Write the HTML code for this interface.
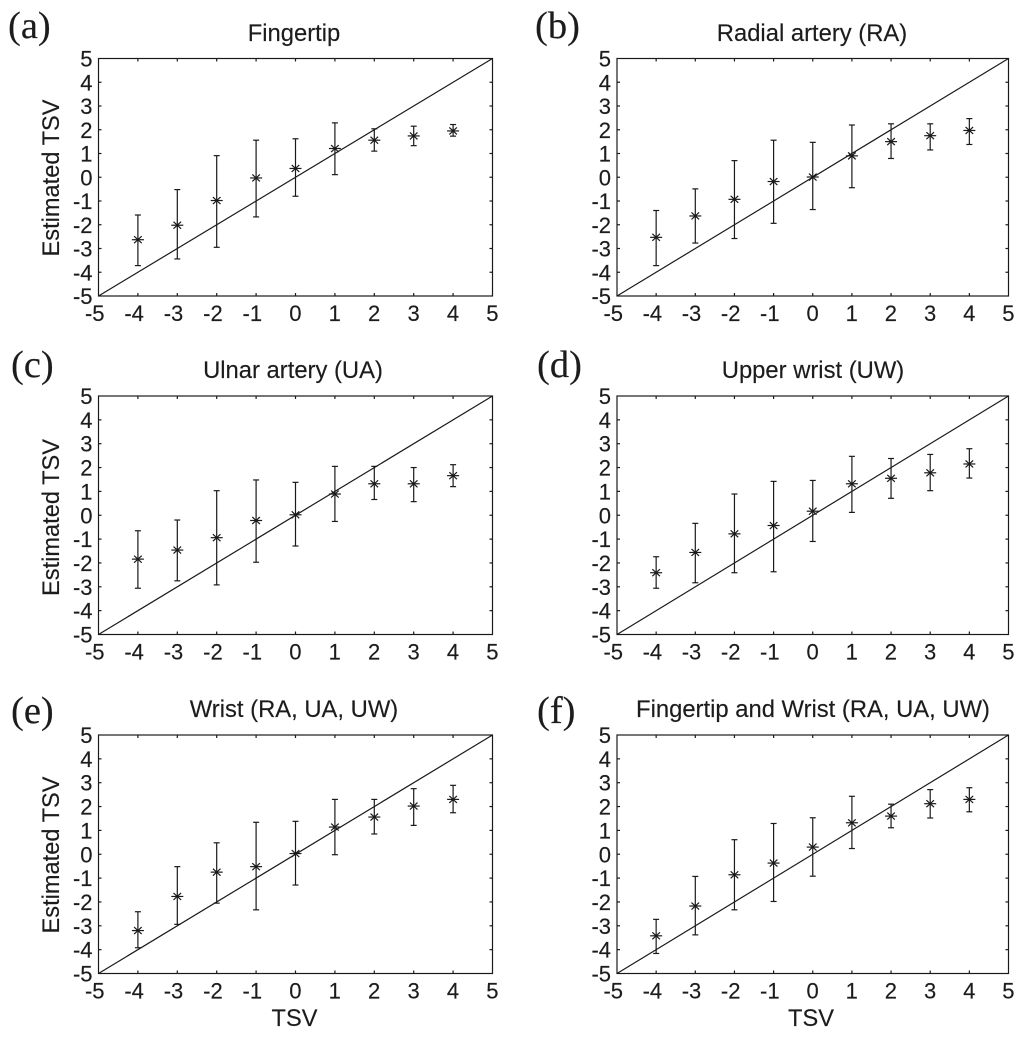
<!DOCTYPE html>
<html lang="en">
<head>
<meta charset="utf-8">
<title>Estimated TSV versus TSV</title>
<style>
html,body{margin:0;padding:0;background:#fff;}
svg{display:block;}
text{font-family:"Liberation Sans",sans-serif;fill:#1c1c1c;stroke:#1c1c1c;stroke-width:0.15px;}
.panel-letter{font-family:"Liberation Serif",serif;font-size:38.5px;}
.title{font-size:23.8px;text-anchor:middle;}
.axis-title{font-size:23.6px;text-anchor:middle;}
.tick-label{font-size:22px;}
.stroke{stroke:#1a1a1a;stroke-width:1.2;fill:none;}
</style>
</head>
<body>
<svg id="figure" xmlns="http://www.w3.org/2000/svg" width="1024" height="1038" viewBox="0 0 1024 1038">
  <g>
    <text class="panel-letter" x="8" y="38">(a)</text>
    <text class="panel-letter" x="535" y="38">(b)</text>
    <text class="panel-letter" x="11" y="377">(c)</text>
    <text class="panel-letter" x="537" y="377">(d)</text>
    <text class="panel-letter" x="11" y="723">(e)</text>
    <text class="panel-letter" x="537" y="723">(f)</text>
  </g>
  <g>
    <text class="title" x="294" y="41">Fingertip</text>
    <text class="title" x="812" y="41">Radial artery (RA)</text>
    <text class="title" x="293" y="378">Ulnar artery (UA)</text>
    <text class="title" x="813" y="378">Upper wrist (UW)</text>
    <text class="title" x="294" y="717">Wrist (RA, UA, UW)</text>
    <text class="title" x="813" y="717">Fingertip and Wrist (RA, UA, UW)</text>
  </g>
  <g>
    <text class="axis-title" transform="translate(59,178) rotate(-90)">Estimated TSV</text>
    <text class="axis-title" transform="translate(59,517.5) rotate(-90)">Estimated TSV</text>
    <text class="axis-title" transform="translate(59,855) rotate(-90)">Estimated TSV</text>
    <text class="axis-title" x="294.5" y="1026">TSV</text>
    <text class="axis-title" x="811" y="1026">TSV</text>
  </g>
</svg>
<script>
const categories = [-4, -3, -2, -1, 0, 1, 2, 3, 4];
const tickValues = [-5, -4, -3, -2, -1, 0, 1, 2, 3, 4, 5];
const tickLabels = ['-5', '-4', '-3', '-2', '-1', '0', '1', '2', '3', '4', '5'];
const identityX = [-5, 5];
const identityY = [-5, 5];

const fingertipMean = [-2.63, -2.02, -0.98, -0.03, 0.37, 1.21, 1.56, 1.74, 1.95];
const fingertipUpper = [-1.59, -0.52, 0.91, 1.56, 1.62, 2.29, 2.04, 2.15, 2.22];
const fingertipLower = [-3.72, -3.44, -2.95, -1.67, -0.80, 0.11, 1.10, 1.33, 1.73];

const radialMean = [-2.53, -1.63, -0.93, -0.18, 0.01, 0.90, 1.50, 1.75, 1.97];
const radialUpper = [-1.40, -0.49, 0.70, 1.56, 1.47, 2.20, 2.25, 2.25, 2.47];
const radialLower = [-3.72, -2.77, -2.58, -1.94, -1.36, -0.44, 0.79, 1.15, 1.38];

const ulnarMean = [-1.84, -1.46, -0.94, -0.22, 0.02, 0.89, 1.32, 1.32, 1.66];
const ulnarUpper = [-0.65, -0.20, 1.03, 1.48, 1.38, 2.05, 2.05, 2.00, 2.12];
const ulnarLower = [-3.06, -2.75, -2.92, -1.97, -1.29, -0.26, 0.66, 0.57, 1.20];

const upperWristMean = [-2.41, -1.56, -0.78, -0.43, 0.17, 1.32, 1.55, 1.78, 2.15];
const upperWristUpper = [-1.74, -0.34, 0.89, 1.42, 1.46, 2.47, 2.38, 2.55, 2.79];
const upperWristLower = [-3.06, -2.83, -2.41, -2.37, -1.10, 0.12, 0.71, 1.03, 1.56];

const wristMean = [-3.20, -1.77, -0.75, -0.52, 0.03, 1.14, 1.56, 2.02, 2.30];
const wristUpper = [-2.41, -0.52, 0.48, 1.34, 1.38, 2.30, 2.30, 2.75, 2.89];
const wristLower = [-3.92, -2.94, -2.05, -2.33, -1.29, -0.02, 0.85, 1.21, 1.74];

const combinedMean = [-3.42, -2.17, -0.86, -0.37, 0.30, 1.32, 1.60, 2.12, 2.30];
const combinedUpper = [-2.73, -0.93, 0.61, 1.29, 1.53, 2.43, 2.10, 2.71, 2.79];
const combinedLower = [-4.16, -3.38, -2.33, -1.98, -0.92, 0.24, 1.11, 1.52, 1.78];

const panelSeries = [
  { id: 'a', mean: fingertipMean, upper: fingertipUpper, lower: fingertipLower },
  { id: 'b', mean: radialMean, upper: radialUpper, lower: radialLower },
  { id: 'c', mean: ulnarMean, upper: ulnarUpper, lower: ulnarLower },
  { id: 'd', mean: upperWristMean, upper: upperWristUpper, lower: upperWristLower },
  { id: 'e', mean: wristMean, upper: wristUpper, lower: wristLower },
  { id: 'f', mean: combinedMean, upper: combinedUpper, lower: combinedLower }
];

const columnEdges = [[98.5, 492.5], [617, 1008.5]];
const rowEdges = [[58.5, 296], [396, 634.5], [735, 973.5]];
const SVG_NS = 'http://www.w3.org/2000/svg';
const figure = document.getElementById('figure');

function line(parent, x1, y1, x2, y2) {
  const el = document.createElementNS(SVG_NS, 'line');
  el.setAttribute('x1', x1);
  el.setAttribute('y1', y1);
  el.setAttribute('x2', x2);
  el.setAttribute('y2', y2);
  el.setAttribute('class', 'stroke');
  parent.appendChild(el);
  return el;
}

function group(parent) {
  const el = document.createElementNS(SVG_NS, 'g');
  parent.appendChild(el);
  return el;
}

function label(parent, x, y, anchor, content) {
  const el = document.createElementNS(SVG_NS, 'text');
  el.setAttribute('class', 'tick-label');
  el.setAttribute('x', x);
  el.setAttribute('y', y);
  el.setAttribute('text-anchor', anchor);
  el.textContent = content;
  parent.appendChild(el);
  return el;
}

panelSeries.forEach(function (panel, index) {
  const [left, right] = columnEdges[index % 2];
  const [top, bottom] = rowEdges[Math.floor(index / 2)];
  const xScale = function (v) { return left + (v + 5) / 10 * (right - left); };
  const yScale = function (v) { return bottom - (v + 5) / 10 * (bottom - top); };

  const root = group(figure);
  
  

  const frame = document.createElementNS(SVG_NS, 'rect');
  frame.setAttribute('x', left);
  frame.setAttribute('y', top);
  frame.setAttribute('width', right - left);
  frame.setAttribute('height', bottom - top);
  frame.setAttribute('class', 'stroke');
  
  
  root.appendChild(frame);

  const xAxis = group(root);
  
  
  const yAxis = group(root);
  
  

  tickValues.forEach(function (value, i) {
    const px = xScale(value);
    const py = yScale(value);
    if (i > 0 && i < tickValues.length - 1) {
      line(xAxis, px, bottom, px, bottom - 3);
      line(xAxis, px, top, px, top + 3);
      line(yAxis, left, py, left + 3, py);
      line(yAxis, right, py, right - 3, py);
    }
    const xLabel = label(xAxis, px + 6, bottom + 25, 'end', tickLabels[i]);
    
    
    const yLabel = label(yAxis, left - 6, py + 8, 'end', tickLabels[i]);
    
    
  });

  const identity = line(root, xScale(identityX[0]), yScale(identityY[0]), xScale(identityX[1]), yScale(identityY[1]));
  
  

  categories.forEach(function (category, i) {
    const px = xScale(category);
    const mark = group(root);
    
    
    const yMean = yScale(panel.mean[i]);
    const yUp = yScale(panel.upper[i]);
    const yLow = yScale(panel.lower[i]);
    line(mark, px, yUp, px, yLow);
    line(mark, px - 3, yUp, px + 3, yUp);
    line(mark, px - 3, yLow, px + 3, yLow);
    line(mark, px - 6, yMean, px + 6, yMean);
    line(mark, px - 3.8, yMean - 3.5, px + 3.8, yMean + 3.5);
    line(mark, px - 3.8, yMean + 3.5, px + 3.8, yMean - 3.5);
  });
});
</script>
</body>
</html>
